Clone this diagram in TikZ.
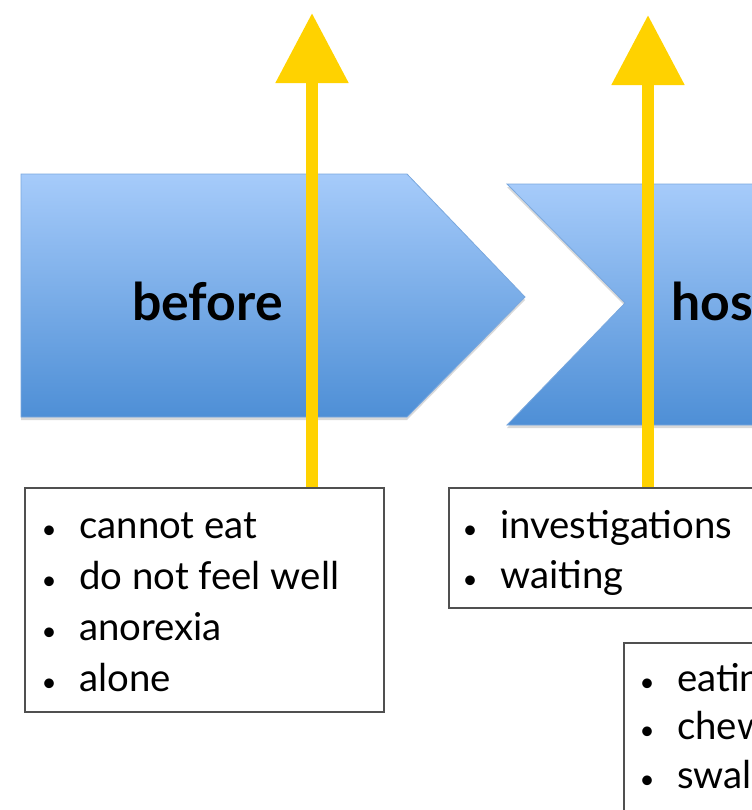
\documentclass[tikz,border=0pt]{standalone}
\usepackage{fontspec}
\setmainfont{Lato}
\usetikzlibrary{arrows.meta,shadows}
\definecolor{chevtop}{HTML}{A6CBFA}
\definecolor{chevbot}{HTML}{4E8FD6}
\definecolor{chevedge}{HTML}{7AA8DE}
\definecolor{arrowgold}{HTML}{FFD200}
\definecolor{boxedge}{HTML}{505050}
% one bullet line: bullet centred 30bp left of the text
\newcommand\listline[1]{\makebox[60bp][c]{\fontsize{26}{26}\selectfont\textbullet}#1}
\tikzset{
  chevron/.style={top color=chevtop, bottom color=chevbot, draw=chevedge,
    line width=0.8bp,
    drop shadow={shadow xshift=0bp, shadow yshift=-3bp, opacity=0.25, fill=black!60}},
  phase/.style={font=\bfseries\fontsize{52}{62}\selectfont, inner sep=0, anchor=base west},
  listbox/.style={draw=boxedge, line width=1.6bp, fill=white, anchor=north west, inner sep=0},
  item/.style={font=\fontsize{38.5}{46}\selectfont, inner sep=0, anchor=base west},
  uparrow/.style={draw=arrowgold, line width=12bp,
    -{Triangle[length=70bp,width=70bp,fill=arrowgold]}}
}
\begin{document}
\begin{tikzpicture}[x=1bp,y=-1bp]
\useasboundingbox (0,0) rectangle (752,810);
\clip (0,0) rectangle (752,810);

% phase chevrons
\path[chevron] (21,174) -- (407,174) -- (525,297) -- (407,417) -- (21,417) -- cycle;
\path[chevron] (507,184) -- (790,184) -- (790,425) -- (507,425) -- (625,303) -- cycle;
\node[phase] (ph1) at (132,320) {before};
\node[phase] (ph2) at (671,320) {hospital};

% note boxes
\node[listbox, minimum width=359bp, minimum height=224bp] (box1) at (24,487) {};
\node[listbox, minimum width=360bp, minimum height=120bp] (box2) at (448,487) {};
\node[listbox, minimum width=300bp, minimum height=250bp] (box3) at (623,642) {};

\foreach \t [count=\i] in {cannot eat, do not feel well, anorexia, alone}
  \node[item] (b1-\i) at (19,{538+51*(\i-1)}) {\listline{\t}};
\foreach \t [count=\i] in {investigations, waiting}
  \node[item] (b2-\i) at (440,{538+50*(\i-1)}) {\listline{\t}};
\foreach \t [count=\i] in {eating, chewing, swallowing}
  \node[item] (b3-\i) at (617,{691+48.5*(\i-1)}) {\listline{\t}};

% rising arrows
\coordinate (tip1) at (312,13);
\coordinate (tip2) at (648,15);
\draw[uparrow] (tip1 |- box1.north) -- (tip1);
\draw[uparrow] (tip2 |- box2.north) -- (tip2);
\end{tikzpicture}
\end{document}
